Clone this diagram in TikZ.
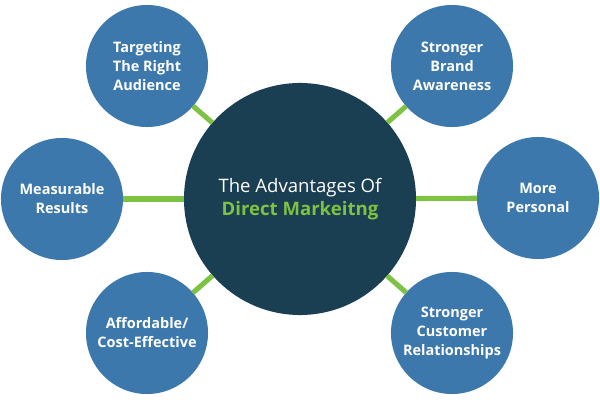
\documentclass[tikz,border=0pt]{standalone}
\usepackage{fontspec}
\setmainfont{Open Sans}
\usepackage{xcolor}
\usetikzlibrary{positioning}
\definecolor{hubblue}{HTML}{1A3F52}
\definecolor{leafblue}{HTML}{3C78AC}
\definecolor{linkgreen}{HTML}{7DC242}

\begin{document}
\begin{tikzpicture}[
  x=0.025cm, y=-0.025cm,
  hub/.style={
    circle, fill=hubblue, minimum size=5.8cm,
    inner sep=0pt, outer sep=0pt, align=center, text=white,
    font=\fontsize{13.2}{16}\selectfont
  },
  leaf/.style={
    circle, fill=leafblue, minimum size=3.05cm,
    inner sep=0pt, outer sep=0pt, align=center, text=white,
    font=\fontsize{10.3}{13.5}\selectfont\bfseries
  },
  link/.style={linkgreen, line width=3.6pt}
]
\useasboundingbox (0,0) rectangle (600,400);

% ---- Central hub ----
\node[hub] (hub) at (300,199) {%
  The Advantages Of\\
  \textcolor{linkgreen}{\bfseries Direct Markeitng}%
};

% ---- Surrounding advantages ----
\node[leaf] (target)  at (147,66)  {Targeting\\The Right\\Audience};
\node[leaf] (brand)   at (452,66)  {Stronger\\Brand\\Awareness};
\node[leaf] (measure) at (62,199)  {Measurable\\Results};
\node[leaf] (person)  at (538,198) {More\\Personal};
\node[leaf] (cost)    at (147,333) {Affordable/\\Cost-Effective};
\node[leaf] (custom)  at (452,333) {Stronger\\Customer\\Relationships};

% ---- Green links ----
\foreach \leafname in {target, brand, measure, person, cost, custom}
  \draw[link] (hub) -- (\leafname);

\end{tikzpicture}
\end{document}
